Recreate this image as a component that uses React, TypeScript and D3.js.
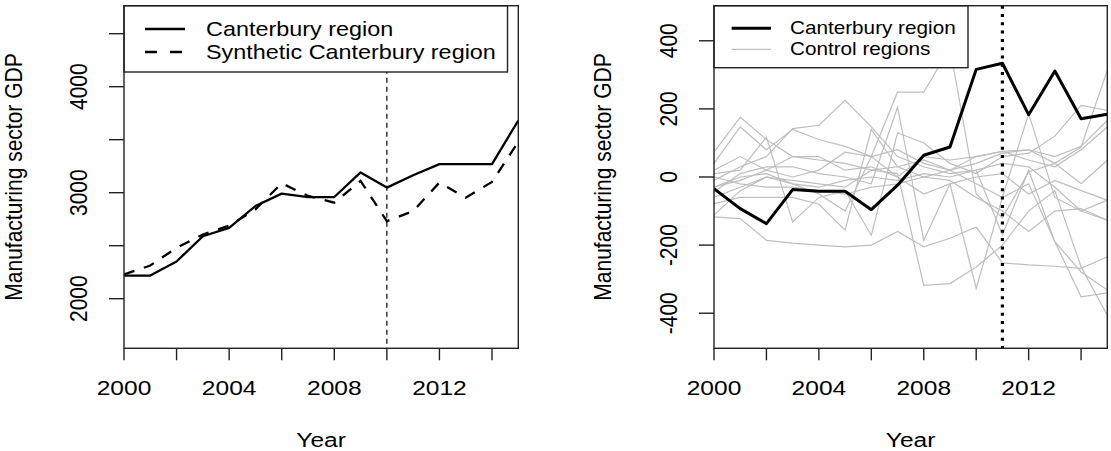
import React from "react";
import * as d3 from "d3";

// ---------- data ----------
const years = [2000, 2001, 2002, 2003, 2004, 2005, 2006, 2007, 2008, 2009, 2010, 2011, 2012, 2013, 2014, 2015];

// Left panel: Canterbury vs synthetic Canterbury (manufacturing sector GDP)
const canterburyGDP = [2218, 2218, 2351, 2589, 2668, 2874, 2991, 2959, 2959, 3191, 3048, 3165, 3270, 3270, 3270, 3681];
const syntheticGDP = [2228, 2313, 2480, 2605, 2690, 2842, 3089, 2969, 2906, 3111, 2731, 2826, 3096, 2953, 3102, 3481];

// Right panel: gaps (Canterbury and control regions)
const canterburyGap = [-34, -93, -137, -37, -42, -42, -96, -24, 64, 88, 316, 334, 183, 311, 171, 184];
const controlA = [73, 176, 110, 60, 50, 40, 20, 30, 50, 20, 40, 70, 80, 60, 90, 166];
const controlB = [40, 147, 80, 140, 110, 90, 60, 80, 40, 20, -20, -60, 186, -60, -100, -127];
const controlC = [10, 20, 117, -132, -60, -40, -171, 130, 100, 40, 10, 60, 70, 120, 210, 196];
const controlD = [-10, 30, 60, 142, 152, 225, 147, 60, 30, 10, 20, 40, 30, -30, -100, -68];
const controlE = [-29, -10, 20, 0, 20, 73, 60, 249, 249, 380, -50, -120, 15, 40, 88, 313];
const controlF = [-44, 10, 30, 30, 10, 0, -20, 205, -186, -20, -327, -60, -20, -190, -279, -332];
const controlG = [-59, -30, 0, -10, -20, -30, 20, 10, -318, -313, -264, -200, -100, -40, -264, -406];
const controlH = [-78, -60, -60, -60, -80, -156, 140, 30, 0, 20, 60, 75, 50, 30, 80, 147];
const controlI = [-117, -122, -186, -194, -200, -205, -200, -160, -205, -180, -147, -252, -258, -262, -268, -234];
const controlJ = [-112, -40, 0, -20, -30, -10, 0, -10, 10, 0, 20, -170, 20, -190, -352, -340];
const controlK = [20, 60, 20, 60, 60, 20, 30, 0, 60, 50, 60, 75, 80, 40, -20, 49];
const controlL = [0, -20, -30, -30, -40, -50, -30, -20, 0, -10, -60, -100, -160, -100, -93, -127];
const controlM = [-30, 0, 10, -20, -50, -100, 60, 0, -50, -20, 0, 10, -50, -10, -40, -68];
const controls = [controlA, controlB, controlC, controlD, controlE, controlF, controlG, controlH, controlI, controlJ, controlK, controlL, controlM];

const xTicks = [2000, 2002, 2004, 2006, 2008, 2010, 2012, 2014];
const xTickLabels = ["2000", "", "2004", "", "2008", "", "2012", ""];
const leftYTicks = [2000, 2500, 3000, 3500, 4000, 4500];
const leftYTickLabels = ["2000", "", "3000", "", "4000", ""];
const rightYTicks = [-400, -200, 0, 200, 400];
const rightYTickLabels = ["-400", "-200", "0", "200", "400"];

const leftTreatYear = 2010;
const rightTreatYear = 2011;

// ---------- layout ----------
const W = 1111;
const H = 451;
const SX = 1.17;
const FONT = "'Liberation Sans', Arial, Helvetica, sans-serif";
const TOP = 5.7;
const BOTTOM = 348.3;

const STxt = ({ x, y, size, anchor = "middle", rotate = false, baseline, children }: any) => (
  <text
    transform={`translate(${x},${y}) scale(${SX},1)${rotate ? " rotate(-90)" : ""}`}
    fontSize={size}
    textAnchor={anchor}
    dominantBaseline={baseline}
    fontFamily={FONT}
    fill="#000"
  >
    {children}
  </text>
);

const Axes = ({ x, y, yTicks, yLabels, yLabelX, titleX }: any) => {
  const [x0, x1] = x.range();
  return (
    <g>
      {xTicks.map((t, i) => (
        <g key={"xt" + t}>
          <line x1={x(t)} x2={x(t)} y1={BOTTOM} y2={BOTTOM + 12} stroke="#222" strokeWidth={1.4} />
          {xTickLabels[i] && (
            <STxt x={x(t)} y={395} size={21}>
              {xTickLabels[i]}
            </STxt>
          )}
        </g>
      ))}
      {yTicks.map((t: number, i: number) => (
        <g key={"yt" + t}>
          <line x1={x0 - 15} x2={x0} y1={y(t)} y2={y(t)} stroke="#222" strokeWidth={1.4} />
          {yLabels[i] && (
            <STxt x={yLabelX} y={y(t)} size={21} rotate>
              {yLabels[i]}
            </STxt>
          )}
        </g>
      ))}
      <STxt x={(x0 + x1) / 2} y={446.5} size={21}>
        Year
      </STxt>
      <STxt x={titleX} y={(TOP + BOTTOM) / 2} size={21} rotate>
        Manufacturing sector GDP
      </STxt>
    </g>
  );
};

export default function App() {
  // Left panel
  const xL = d3.scaleLinear().domain([2000, 2015]).range([124, 518.3]);
  const yL = d3.scaleLinear().domain([1532, 4764]).range([BOTTOM, TOP]);
  const lineL = d3
    .line<number>()
    .x((_, i) => xL(years[i]))
    .y((d) => yL(d));

  // Right panel
  const xR = d3.scaleLinear().domain([2000, 2015]).range([714, 1107.3]);
  const yR = d3.scaleLinear().domain([-503, 503]).range([BOTTOM, TOP]);
  const lineR = d3
    .line<number>()
    .x((_, i) => xR(years[i]))
    .y((d) => yR(d));

  return (
    <svg
      width={W}
      height={H}
      viewBox={`0 0 ${W} ${H}`}
      style={{ position: "absolute", left: 0, top: 0, background: "#fff" }}
    >
      <rect x={0} y={0} width={W} height={H} fill="#fff" />
      <defs>
        <clipPath id="clipL">
          <rect x={124} y={TOP} width={518.3 - 124} height={BOTTOM - TOP} />
        </clipPath>
        <clipPath id="clipR">
          <rect x={714} y={TOP} width={1107.3 - 714} height={BOTTOM - TOP} />
        </clipPath>
      </defs>

      {/* ---------- Left panel ---------- */}
      <g clipPath="url(#clipL)">
        <path d={lineL(canterburyGDP) || ""} fill="none" stroke="#000" strokeWidth={2.3} strokeLinejoin="round" />
        <path
          d={lineL(syntheticGDP) || ""}
          fill="none"
          stroke="#000"
          strokeWidth={2.3}
          strokeDasharray="11,10"
        />
        <line
          x1={xL(leftTreatYear)}
          x2={xL(leftTreatYear)}
          y1={TOP}
          y2={BOTTOM}
          stroke="#000"
          strokeWidth={1.2}
          strokeDasharray="5,4"
        />
      </g>
      {/* legend left */}
      <rect x={124} y={TOP} width={507.5 - 124} height={72 - TOP} fill="#fff" stroke="#222" strokeWidth={1.4} />
      <line x1={145} x2={185} y1={29} y2={29} stroke="#000" strokeWidth={2.3} />
      <line x1={145} x2={185} y1={52} y2={52} stroke="#000" strokeWidth={2.3} strokeDasharray="12,13" />
      <STxt x={206} y={29} size={20} anchor="start" baseline="central">
        Canterbury region
      </STxt>
      <STxt x={206} y={52} size={20} anchor="start" baseline="central">
        Synthetic Canterbury region
      </STxt>
      <rect x={124} y={TOP} width={518.3 - 124} height={BOTTOM - TOP} fill="none" stroke="#222" strokeWidth={1.4} />
      <Axes x={xL} y={yL} yTicks={leftYTicks} yLabels={leftYTickLabels} yLabelX={87} titleX={22} />

      {/* ---------- Right panel ---------- */}
      <g clipPath="url(#clipR)">
        {controls.map((c, i) => (
          <path key={"c" + i} d={lineR(c) || ""} fill="none" stroke="#BEBEBE" strokeWidth={1.2} />
        ))}
        <path d={lineR(canterburyGap) || ""} fill="none" stroke="#000" strokeWidth={3} strokeLinejoin="round" />
      </g>
      {/* legend right */}
      <rect x={714} y={TOP} width={968 - 714} height={67.7 - TOP} fill="#fff" stroke="#222" strokeWidth={1.4} />
      <line x1={731.7} x2={771} y1={28.3} y2={28.3} stroke="#000" strokeWidth={3} />
      <line x1={731.7} x2={771} y1={49.3} y2={49.3} stroke="#BEBEBE" strokeWidth={1.2} />
      <STxt x={790} y={28.3} size={17.7} anchor="start" baseline="central">
        Canterbury region
      </STxt>
      <STxt x={790} y={49.3} size={17.7} anchor="start" baseline="central">
        Control regions
      </STxt>
      <line
        x1={xR(rightTreatYear)}
        x2={xR(rightTreatYear)}
        y1={TOP}
        y2={BOTTOM}
        stroke="#000"
        strokeWidth={3.2}
        strokeDasharray="3,5.3"
      />
      <rect x={714} y={TOP} width={1107.3 - 714} height={BOTTOM - TOP} fill="none" stroke="#222" strokeWidth={1.4} />
      <Axes x={xR} y={yR} yTicks={rightYTicks} yLabels={rightYTickLabels} yLabelX={677} titleX={611} />
    </svg>
  );
}
